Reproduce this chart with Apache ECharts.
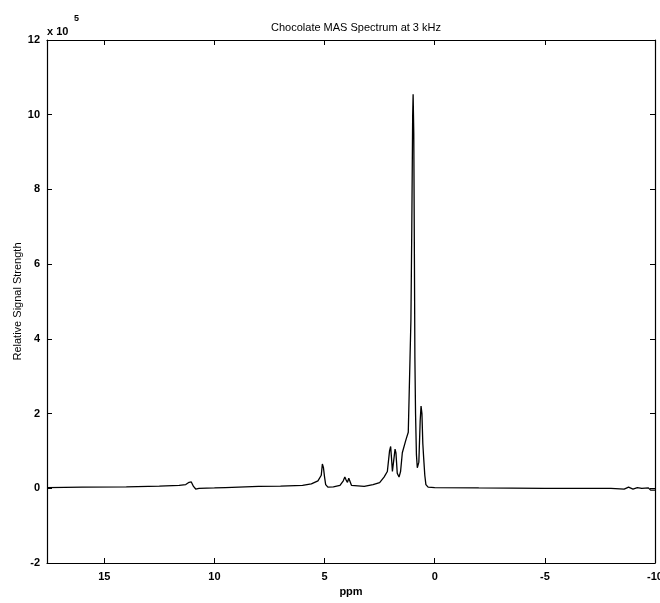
<!DOCTYPE html>
<html>
<head>
<meta charset="utf-8">
<script src="https://cdn.jsdelivr.net/npm/echarts@6/dist/echarts.min.js"></script>
<style>
  html, body { margin: 0; padding: 0; background: #fff; }
  #main { width: 660px; height: 603px; }
</style>
</head>
<body>
<div id="main"></div>
<script>
// chemical shift (ppm)
var ppm = [
  17.6, 16, 14, 12.5, 11.6, 11.3, 11.15, 11.05, 10.95, 10.85, 10.7, 10, 9.5, 9.45,
  8, 7, 6, 5.6, 5.3, 5.15, 5.1, 5.05, 5.0, 4.95, 4.85, 4.6, 4.3, 4.15, 4.08, 4.02,
  3.96, 3.9, 3.85, 3.78, 3.7, 3.2, 2.8, 2.5, 2.3, 2.15, 2.05, 2.0, 1.96, 1.92, 1.86,
  1.8, 1.76, 1.7, 1.62, 1.55, 1.47, 1.4, 1.33, 1.28, 1.2, 1.16, 1.12, 1.08, 1.04,
  1.0, 0.98, 0.95, 0.92, 0.9, 0.87, 0.83, 0.79, 0.72, 0.66, 0.62, 0.58, 0.54, 0.5,
  0.45, 0.4, 0.3, 0, -2, -5, -8, -8.6, -8.8, -9.0, -9.2, -9.4, -9.7, -9.8, -10
];
// relative signal strength, in units of 10^5
var signal = [
  0.02, 0.03, 0.04, 0.06, 0.08, 0.1, 0.16, 0.17, 0.05, -0.02, 0.0, 0.01, 0.02, 0.05,
  0.05, 0.06, 0.08, 0.12, 0.2, 0.35, 0.65, 0.55, 0.3, 0.1, 0.03, 0.04, 0.08, 0.2, 0.3, 0.22,
  0.16, 0.27, 0.22, 0.08, 0.04, 0.05, 0.1, 0.15, 0.3, 0.45, 1.0, 1.12, 0.8, 0.45, 0.5,
  1.05, 0.95, 0.4, 0.3, 0.45, 0.95, 1.0, 1.25, 1.35, 1.5, 2.5, 3.5, 4.5, 7.0,
  10.0, 10.55, 9.5, 6.0, 3.5, 2.0, 0.9, 0.55, 0.7, 1.8, 2.2, 2.0, 1.2, 0.8,
  0.35, 0.1, 0.03, 0.02, 0.01, 0.0, 0.0, -0.02, 0.03, -0.02, 0.02, 0.0, 0.01, -0.05, -0.05
];
var xTicks = [15, 10, 5, 0, -5, -10];
var yTicks = [-2, 0, 2, 4, 6, 8, 10, 12];

var pts = ppm.map(function(p, i) { return [p, signal[i]]; });
var font = 'Liberation Sans';
var lbl = { color: '#000', fontFamily: font, fontSize: 11, fontWeight: 'bold' };

var chart = echarts.init(document.getElementById('main'));
chart.setOption({
  backgroundColor: '#fff',
  animation: false,
  title: {
    text: 'Chocolate MAS Spectrum at 3 kHz',
    left: 351, top: 17, textAlign: 'center',
    textStyle: { color: '#000', fontFamily: font, fontSize: 11, fontWeight: 'normal' }
  },
  grid: { left: 47, right: 5, top: 40, bottom: 40, outerBoundsMode: 'none' },
  xAxis: [{
    type: 'value', inverse: true, min: -10, max: 17.6, interval: 5,
    name: 'ppm', nameLocation: 'middle', nameGap: 22,
    nameTextStyle: lbl,
    axisLine: { onZero: false, lineStyle: { color: '#000', width: 1.2 } },
    axisTick: { inside: true, length: 5, lineStyle: { color: '#000' } },
    axisLabel: Object.assign({ margin: 8, formatter: function(v) {
      return xTicks.indexOf(v) >= 0 ? String(v) : '';
    } }, lbl),
    splitLine: { show: false }
  }, {
    type: 'value', inverse: true, min: -10, max: 17.6, interval: 5, position: 'top',
    axisLine: { onZero: false, lineStyle: { color: '#000', width: 1.2 } },
    axisTick: { inside: true, length: 5, lineStyle: { color: '#000' } },
    axisLabel: { show: false }, splitLine: { show: false }
  }],
  yAxis: [{
    type: 'value', min: -2, max: 12, interval: 2,
    name: 'Relative Signal Strength', nameLocation: 'middle', nameGap: 24,
    nameMoveOverlap: false,
    nameTextStyle: { color: '#000', fontFamily: font, fontSize: 11 },
    axisLine: { show: true, onZero: false, lineStyle: { color: '#000', width: 1.2 } },
    axisTick: { show: true, inside: true, length: 5, lineStyle: { color: '#000' } },
    axisLabel: Object.assign({ margin: 7, formatter: function(v) {
      return yTicks.indexOf(v) >= 0 ? String(v) : '';
    } }, lbl),
    splitLine: { show: false }
  }, {
    type: 'value', min: -2, max: 12, interval: 2, position: 'right',
    axisLine: { show: true, onZero: false, lineStyle: { color: '#000', width: 1.2 } },
    axisTick: { show: true, inside: true, length: 5, lineStyle: { color: '#000' } },
    axisLabel: { show: false }, splitLine: { show: false }
  }],
  graphic: [
    { type: 'text', left: 47, top: 26, style: { text: 'x 10', fill: '#000', font: 'bold 11px ' + font } },
    { type: 'text', left: 74, top: 14, style: { text: '5', fill: '#000', font: 'bold 9px ' + font } }
  ],
  series: [{
    type: 'line',
    data: pts,
    showSymbol: false,
    lineStyle: { color: '#000', width: 1.3 }
  }]
});
</script>
</body>
</html>
